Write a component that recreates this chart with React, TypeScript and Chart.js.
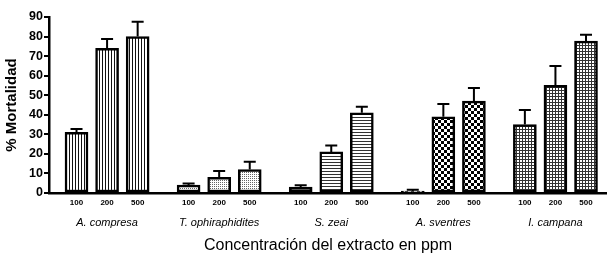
import React, { useEffect, useRef } from 'react';
import { Chart, registerables } from 'chart.js';

Chart.register(...registerables);

const species = ['A. compresa', 'T. ophiraphidites', 'S. zeai', 'A. sventres', 'I. campana'];
const doses = ['100', '200', '500'];
const mortality = [31, 74, 80, 4, 8, 12, 3, 21, 41, 1, 39, 47, 35, 55, 77.7];
const errors = [1.7, 4.7, 7.6, 0.8, 3.2, 4, 0.9, 3.3, 3.1, 0.6, 6.5, 6.7, 7.4, 10, 3.2];
const barSlots = [0, 3, 6, 11, 14, 17, 22, 25, 28, 33, 36, 39, 44, 47, 50];
const groupSlots = [3, 14, 25, 36, 47];
const yTickValues = [0, 10, 20, 30, 40, 50, 60, 70, 80, 90];
const patternKinds = ['vertical', 'dots', 'horizontal', 'checker', 'grid'];

const FONT = 'Arial, "Liberation Sans", sans-serif';

function makePattern(kind: string): CanvasPattern | string {
  const c = document.createElement('canvas');
  let w = 3, h = 3;
  if (kind === 'vertical') { w = 3; h = 1; }
  if (kind === 'horizontal') { w = 1; h = 3; }
  if (kind === 'dots') { w = 2; h = 2; }
  if (kind === 'checker') { w = 6; h = 6; }
  c.width = w; c.height = h;
  const g = c.getContext('2d')!;
  g.fillStyle = '#fff';
  g.fillRect(0, 0, w, h);
  if (kind === 'vertical') { g.fillStyle = '#111'; g.fillRect(0, 0, 1, 1); }
  if (kind === 'horizontal') { g.fillStyle = '#333'; g.fillRect(0, 0, 1, 1); }
  if (kind === 'dots') { g.fillStyle = '#666'; g.fillRect(0, 0, 1, 1); }
  if (kind === 'checker') { g.fillStyle = '#000'; g.fillRect(0, 0, 3, 3); g.fillRect(3, 3, 3, 3); }
  if (kind === 'grid') { g.fillStyle = '#333'; g.fillRect(0, 0, 3, 1); g.fillRect(0, 0, 1, 3); }
  return g.createPattern(c, 'repeat') || '#999';
}

const errorBarPlugin = {
  id: 'errorBars',
  afterDatasetsDraw(chart: any) {
    const meta = chart.getDatasetMeta(0);
    const yScale = chart.scales.y;
    const ctx = chart.ctx;
    ctx.save();
    ctx.strokeStyle = '#000';
    ctx.lineWidth = 2;
    meta.data.forEach((bar: any, i: number) => {
      const x = bar.x;
      const top = bar.y;
      const e = yScale.getPixelForValue(mortality[i] + errors[i]);
      ctx.beginPath();
      ctx.moveTo(x, top);
      ctx.lineTo(x, e);
      ctx.moveTo(x - 6, e);
      ctx.lineTo(x + 6, e);
      ctx.stroke();
    });
    ctx.restore();
  },
};

const X_MIN = -2.7;
const X_MAX = 52.06;

export default function App() {
  const ref = useRef<HTMLCanvasElement>(null);
  useEffect(() => {
    if (!ref.current) return;
    Chart.defaults.font.family = FONT;
    const patterns = patternKinds.map(makePattern);
    const chart = new Chart(ref.current, {
      type: 'bar',
      data: {
        datasets: [
          {
            data: barSlots.map((x, i) => ({ x, y: mortality[i] })) as any,
            backgroundColor: barSlots.map((_, i) => patterns[Math.floor(i / 3)]) as any,
            borderColor: '#000',
            borderWidth: 2.5,
            borderSkipped: false,
            barThickness: 23,
          },
        ],
      },
      options: {
        animation: false,
        responsive: false,
        layout: { padding: { top: 17, right: 0, left: 0, bottom: 0 } },
        plugins: { legend: { display: false }, tooltip: { enabled: false } },
        scales: {
          x: {
            type: 'linear',
            min: X_MIN,
            max: X_MAX,
            offset: false,
            position: 'bottom',
            grid: { display: false, drawTicks: false, offset: false },
            border: { display: true, color: '#000', width: 2.5 },
            afterBuildTicks: (s: any) => { s.ticks = barSlots.map((v) => ({ value: v })); },
            ticks: {
              autoSkip: false,
              maxRotation: 0,
              callback: (_v: any, i: number) => doses[i % 3],
              font: { size: 8, weight: 'bold' },
              color: '#000',
              padding: 5,
            },
            afterFit: (s: any) => { s.height = 20; },
          } as any,
          x2: {
            type: 'linear',
            min: X_MIN,
            max: X_MAX,
            offset: false,
            position: 'bottom',
            grid: { display: false, drawTicks: false, offset: false },
            border: { display: false },
            afterBuildTicks: (s: any) => { s.ticks = groupSlots.map((v) => ({ value: v })); },
            ticks: {
              autoSkip: false,
              maxRotation: 0,
              callback: (_v: any, i: number) => species[i],
              font: { size: 11, style: 'italic' },
              color: '#000',
              padding: 3,
            },
            title: {
              display: true,
              text: 'Concentración del extracto en ppm',
              font: { size: 16 },
              color: '#000',
              padding: { top: 4, bottom: 0 },
            },
            afterFit: (s: any) => { s.height = 42; },
          } as any,
          y: {
            min: 0,
            max: 90,
            afterBuildTicks: (s: any) => { s.ticks = yTickValues.map((v) => ({ value: v })); },
            ticks: {
              font: { size: 12.5, weight: 'bold' },
              color: '#000',
              padding: 1,
            },
            grid: { drawOnChartArea: false, drawTicks: true, tickLength: 5, color: '#000', lineWidth: 2 },
            border: { display: true, color: '#000', width: 2.5 },
            title: {
              display: true,
              text: '% Mortalidad',
              font: { size: 15, weight: 'bold' },
              color: '#000',
              padding: { top: 3, bottom: 0 },
            },
            afterFit: (s: any) => { s.width = 49; },
          } as any,
        },
      },
      plugins: [errorBarPlugin],
    });
    return () => chart.destroy();
  }, []);
  return (
    <div style={{ position: 'fixed', left: 0, top: 0, width: 607, height: 255, background: '#fff' }}>
      <canvas ref={ref} width={607} height={255} style={{ width: 607, height: 255, display: 'block' }} />
    </div>
  );
}
